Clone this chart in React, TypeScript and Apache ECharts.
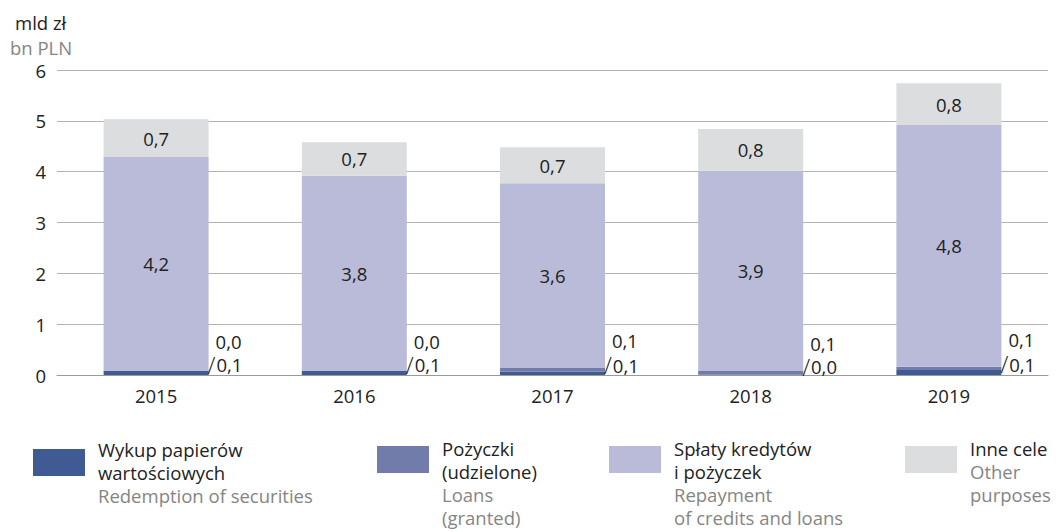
import React, { useEffect, useRef } from "react";
import * as echarts from "echarts";

const years = ["2015", "2016", "2017", "2018", "2019"];
const wykup = [0.08, 0.08, 0.07, 0.01, 0.1];
const pozyczki = [0.01, 0.01, 0.07, 0.07, 0.06];
const splaty = [4.2, 3.83, 3.63, 3.94, 4.76];
const inne = [0.74, 0.66, 0.71, 0.82, 0.82];
const yTicks = [0, 1, 2, 3, 4, 5, 6];

const seriesNames = [
  "Wykup papierów wartościowych",
  "Pożyczki (udzielone)",
  "Spłaty kredytów i pożyczek",
  "Inne cele",
];
const legendLines: string[][] = [
  ["Wykup papierów", "wartościowych", "Redemption of securities"],
  ["Pożyczki", "(udzielone)", "Loans", "(granted)"],
  ["Spłaty kredytów", "i pożyczek", "Repayment", "of credits and loans"],
  ["Inne cele", "Other", "purposes"],
];
const plCount = [2, 2, 2, 1];
const colors = ["#405a94", "#717cab", "#b9bbd9", "#dcdddf"];

const FONT = "Open Sans";
const FS = 18.5;
const fmt = (v: number) => (Math.round(v * 10) / 10).toFixed(1).replace(".", ",");

export default function App() {
  const ref = useRef<HTMLDivElement>(null);
  useEffect(() => {
    const chart = echarts.init(ref.current!, undefined, { renderer: "svg" });
    const legendPos = [
      { left: 33, top: 440, pad: 20 },
      { left: 377, top: 439, pad: 47 },
      { left: 609, top: 439, pad: 47 },
      { left: 905, top: 439, pad: 24 },
    ];
    const legends = seriesNames.map((name, i) => ({
      show: true,
      left: legendPos[i].left,
      top: legendPos[i].top,
      padding: 0,
      orient: "vertical",
      icon: "rect",
      itemWidth: 52,
      itemHeight: 27,
      selectedMode: false,
      data: [name],
      formatter: () =>
        legendLines[i]
          .map((l, j) => (j < plCount[i] ? `{a|${l}}` : `{b|${l}}`))
          .join("\n"),
      textStyle: {
        padding: [legendPos[i].pad, 0, 0, 8],
        rich: {
          a: { fontFamily: FONT, fontSize: FS, color: "#222", lineHeight: 23 },
          b: { fontFamily: FONT, fontSize: FS, color: "#858585", lineHeight: 23 },
        },
      },
    }));
    const dataArr = [wykup, pozyczki, splaty, inne];
    const series = dataArr.map((d, i) => {
      let label: any = { show: false };
      let labelLayout: any = { hideOverlap: false };
      if (i === 0) {
        label = {
          show: true,
          position: "right",
          distance: -1,
          formatter: (p: any) => `{s|/}{v|${fmt(p.value)}}`,
          rich: {
            s: { fontFamily: FONT, fontSize: 23, color: "#222", fontWeight: 300, lineHeight: 19, padding: [0, 1, 0, 0] },
            v: { fontFamily: FONT, fontSize: FS, color: "#222", lineHeight: 19 },
          },
        };
        labelLayout = { hideOverlap: false, dy: -8 };
      } else if (i === 1) {
        label = {
          show: true,
          position: "right",
          distance: 7,
          formatter: (p: any) => fmt(p.value),
          fontFamily: FONT,
          fontSize: FS,
          lineHeight: 19,
          color: "#222",
        };
        labelLayout = { hideOverlap: false, dy: -29 };
      } else {
        label = {
          show: true,
          position: "inside",
          formatter: (p: any) => fmt(p.value),
          fontFamily: FONT,
          fontSize: FS,
          color: "#222",
        };
      }
      return {
        name: seriesNames[i],
        type: "bar",
        stack: "total",
        barWidth: 105,
        data: d,
        itemStyle: { color: colors[i] },
        label,
        labelLayout,
      };
    });
    chart.setOption({
      animation: false,
      textStyle: { fontFamily: FONT },
      title: {
        left: 10,
        top: 10,
        padding: 0,
        text: "{a|mld zł}\n{b|bn PLN}",
        textStyle: {
          fontWeight: "normal",
          fontSize: FS,
          rich: {
            a: { fontFamily: FONT, fontSize: FS, fontWeight: "normal", color: "#222", lineHeight: 25, padding: [0, 0, 0, 5] },
            b: { fontFamily: FONT, fontSize: FS, fontWeight: "normal", color: "#858585", lineHeight: 25 },
          },
        },
      },
      legend: legends,
      grid: { left: 57, right: 10, top: 70, bottom: 157, containLabel: false },
      xAxis: {
        type: "category",
        data: years,
        axisTick: { show: false },
        axisLine: { lineStyle: { color: "#9a9a9a", width: 1 } },
        axisLabel: { fontFamily: FONT, fontSize: FS, color: "#222", margin: 11 },
      },
      yAxis: {
        type: "value",
        min: yTicks[0],
        max: yTicks[yTicks.length - 1],
        interval: 1,
        axisLabel: { fontFamily: FONT, fontSize: FS, color: "#222", margin: 11 },
        splitLine: { lineStyle: { color: "#b3b3b3", width: 1 } },
        axisLine: { show: false },
        axisTick: { show: false },
      },
      series,
    });
    return () => chart.dispose();
  }, []);
  return <div ref={ref} style={{ width: 1058, height: 532, position: "absolute", left: 0, top: 0 }} />;
}
